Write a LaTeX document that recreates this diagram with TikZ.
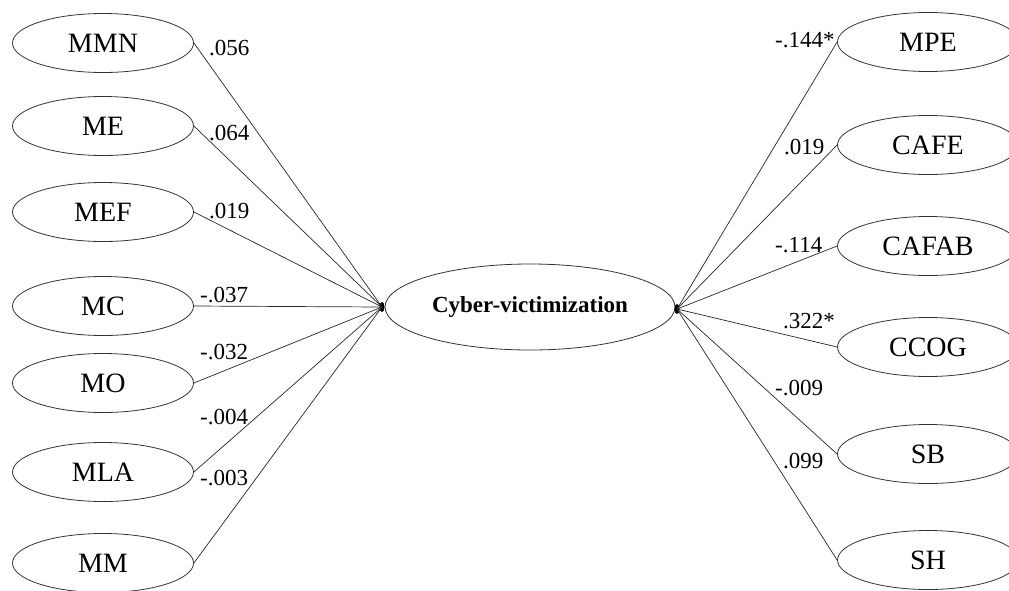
\documentclass[tikz,border=0pt]{standalone}
\usepackage{fontspec}
\setmainfont{Liberation Serif}
\usetikzlibrary{shapes.geometric}
\begin{document}
\begin{tikzpicture}[x=1pt,y=-1pt,
  var/.style={ellipse,draw=black!80,line width=0.8pt,minimum width=181pt,minimum height=59pt,inner sep=0pt,font=\fontsize{28}{30}\selectfont},
  central/.style={ellipse,draw=black!80,line width=0.8pt,minimum width=290pt,minimum height=86pt,inner sep=0pt,font=\fontsize{23}{26}\selectfont\bfseries},
  hub/.style={ellipse,fill=black,minimum width=5pt,minimum height=10pt,inner sep=0pt},
  path/.style={draw=black!85,line width=0.7pt},
  coef/.style={inner sep=0pt,font=\fontsize{23}{26}\selectfont}
]
\useasboundingbox (0,0) rectangle (1009,590);
% central
\node[central] (cv) at (530,307) {Cyber-victimization};
\node[hub] (lh) at (382,307) {};
\node[hub] (rh) at (677,309) {};
% left variables
\node[var] (mmn) at (103,43) {MMN};
\node[var] (me)  at (103,126) {ME};
\node[var] (mef) at (103,212) {MEF};
\node[var] (mc)  at (103,306) {MC};
\node[var] (mo)  at (103,383) {MO};
\node[var] (mla) at (103,472) {MLA};
\node[var] (mm)  at (103,563) {MM};
% right variables
\node[var] (mpe)   at (928,42) {MPE};
\node[var] (cafe)  at (928,145) {CAFE};
\node[var] (cafab) at (928,246) {CAFAB};
\node[var] (ccog)  at (928,347) {CCOG};
\node[var] (sb)    at (928,454) {SB};
\node[var] (sh)    at (928,560) {SH};
% left paths
\foreach \n in {mmn,me,mef,mc,mo,mla,mm}
  \draw[path] (\n.east) -- (lh.center);
% right paths
\foreach \n in {mpe,cafe,cafab,ccog,sb,sh}
  \draw[path] (rh.center) -- (\n.west);
% left coefficients
\node[coef,anchor=base west] (c1) at (209,55) {.056};
\node[coef,anchor=base west] (c2) at (209,140) {.064};
\node[coef,anchor=base west] (c3) at (209,218) {.019};
\node[coef,anchor=base west] (c4) at (200,302) {-.037};
\node[coef,anchor=base west] (c5) at (200,359) {-.032};
\node[coef,anchor=base west] (c6) at (200,424) {-.004};
\node[coef,anchor=base west] (c7) at (200,485) {-.003};
% right coefficients
\node[coef,anchor=base west] (d1) at (775,47) {-.144*};
\node[coef,anchor=base west] (d2) at (784,154) {.019};
\node[coef,anchor=base west] (d3) at (775,252) {-.114};
\node[coef,anchor=base west] (d4) at (783,328) {.322*};
\node[coef,anchor=base west] (d5) at (775,395) {-.009};
\node[coef,anchor=base west] (d6) at (783,468) {.099};
\end{tikzpicture}
\end{document}
